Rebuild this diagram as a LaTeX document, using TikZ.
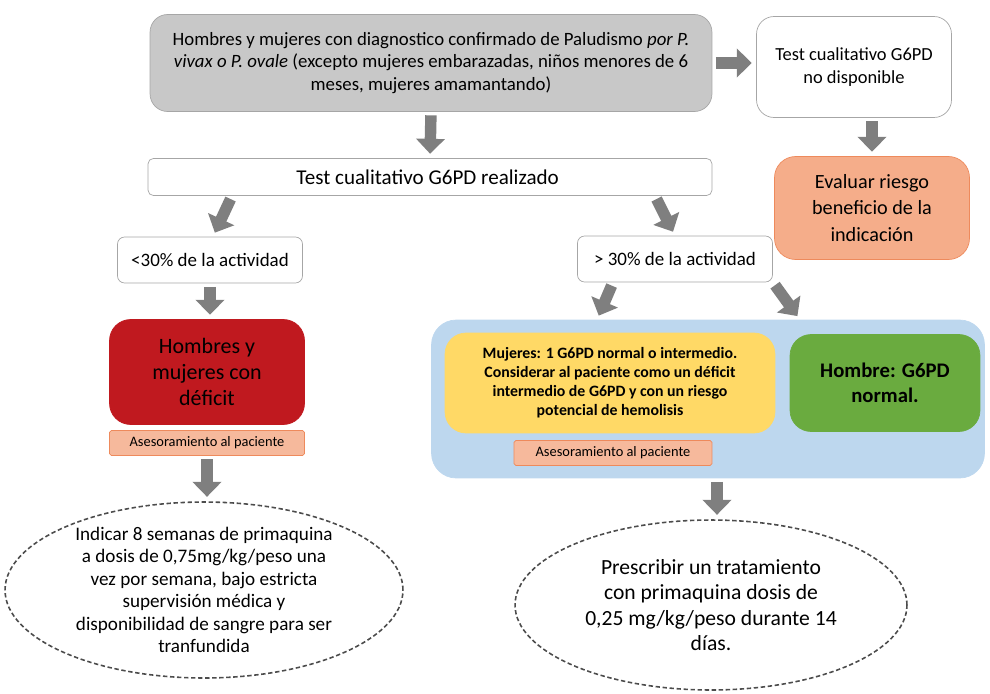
\documentclass[tikz,border=0pt]{standalone}
\usepackage{fontspec}
\setmainfont{Carlito}
\usepackage{tikz}
\usetikzlibrary{shapes,arrows.meta,positioning}

\definecolor{topgray}{HTML}{C8C8C8}
\definecolor{arrowgray}{HTML}{7F7F7F}
\definecolor{framegray}{HTML}{A6A6A6}
\definecolor{salmon}{HTML}{F5AD8A}
\definecolor{salmondark}{HTML}{EE8A5C}
\definecolor{deficitred}{HTML}{C0191F}
\definecolor{paleblue}{HTML}{BDD7EE}
\definecolor{paleyellow}{HTML}{FFD966}
\definecolor{normalgreen}{HTML}{6AAB3F}

\tikzset{
  every node/.style={
    align=center,
    inner sep=2pt
  },
  greybox/.style={
    shape=rectangle,
    rounded corners=10pt,
    draw=framegray,
    fill=topgray,
    font=\fontsize{10.7}{12.9}\selectfont
  },
  whitebox/.style={
    shape=rectangle,
    rounded corners=10pt,
    draw=framegray,
    fill=white,
    font=\fontsize{10.5}{13}\selectfont
  },
  riskbox/.style={
    shape=rectangle,
    rounded corners=12pt,
    draw=salmondark,
    fill=salmon,
    minimum width=3.9cm,
    minimum height=2.06cm,
    font=\fontsize{11.5}{15}\selectfont
  },
  testbox/.style={
    shape=rectangle,
    rounded corners=3pt,
    draw=framegray,
    fill=white,
    font=\fontsize{12}{14}\selectfont
  },
  levelbox/.style={
    shape=rectangle,
    rounded corners=4pt,
    draw=framegray,
    fill=white,
    minimum height=0.92cm,
    font=\fontsize{10.8}{12}\selectfont
  },
  deficit/.style={
    shape=rectangle,
    rounded corners=12pt,
    draw=deficitred,
    fill=deficitred,
    minimum width=3.9cm,
    minimum height=2.1cm,
    font=\fontsize{12.5}{15}\selectfont
  },
  counsel/.style={
    shape=rectangle,
    rounded corners=1pt,
    draw=salmondark,
    fill=salmon!85,
    minimum height=0.5cm,
    font=\fontsize{8.2}{9}\selectfont
  },
  bluebox/.style={
    shape=rectangle,
    rounded corners=14pt,
    draw=paleblue,
    fill=paleblue,
    minimum width=11.06cm,
    minimum height=3.16cm
  },
  womenbox/.style={
    shape=rectangle,
    rounded corners=12pt,
    draw=paleyellow,
    fill=paleyellow,
    minimum width=6.6cm,
    minimum height=2cm,
    font=\fontsize{9}{10.8}\selectfont\bfseries
  },
  menbox/.style={
    shape=rectangle,
    rounded corners=12pt,
    draw=normalgreen,
    fill=normalgreen,
    minimum width=3.8cm,
    minimum height=1.94cm,
    font=\fontsize{11.8}{14}\selectfont\bfseries
  },
  dashell/.style={
    shape=ellipse,
    draw=gray!60!black,
    line width=0.9pt,
    dash pattern=on 2.5pt off 1.5pt
  },
  fatarrow/.style={
    draw=arrowgray,
    line width=6.5pt,
    -{Triangle[width=16pt,length=8.5pt]},
    shorten <=2pt,
    shorten >=2.5pt
  }
}

\begin{document}
\begin{tikzpicture}[x=0.02cm, y=-0.02cm]
  \useasboundingbox (0,0) rectangle (990,693);

  % top row
  \node [greybox, minimum width=11.24cm, minimum height=1.94cm] (patients) at (431,63) {
    Hombres y mujeres con diagnostico confirmado de Paludismo \textit{por P.}\\
    \textit{vivax o P. ovale} (excepto mujeres embarazadas, niños menores de 6\\
    meses, mujeres amamantando)
  };
  \node [whitebox, minimum width=3.9cm, minimum height=2.02cm] (notavail) at (854,67) {
    Test cualitativo G6PD\\no disponible
  };
  \node [riskbox] (evaluate) at (872,208) {Evaluar riesgo\\beneficio de la\\indicación};

  % test done
  \node [testbox, minimum width=11.28cm, minimum height=0.74cm] (testdone) at (430,177) {
    Test cualitativo G6PD realizado
  };
  \node [levelbox, minimum width=3.7cm] (low) at (210,260) {<30\% de la actividad};
  \node [levelbox, minimum width=3.9cm] (high) at (675,259) {> 30\% de la actividad};

  % left branch
  \node [deficit] (deficit) at (207,372) {Hombres y\\mujeres con\\déficit};
  \node [counsel, minimum width=3.9cm] (counselL) at (207,443) {Asesoramiento al paciente};
  \node [dashell, minimum width=7.96cm, minimum height=3.52cm] (doseL) at (204,590) {};
  \node [font=\fontsize{10.9}{12.8}\selectfont] (doseLtext) at (doseL) {
    Indicar 8 semanas de primaquina\\
    a dosis de 0,75mg/kg/peso una\\
    vez por semana, bajo estricta\\
    supervisión médica y\\
    disponibilidad de sangre para ser\\
    tranfundida
  };

  % right branch
  \node [bluebox] (normal) at (708,399) {};
  \node [womenbox] (women) at (610,383) {
    Mujeres: 1 G6PD normal o intermedio.\\
    Considerar al paciente como un déficit\\
    intermedio de G6PD y con un riesgo\\
    potencial de hemolisis
  };
  \node [menbox] (men) at (885,383) {Hombre: G6PD\\normal.};
  \node [counsel, minimum width=3.96cm] (counselR) at (613,453) {Asesoramiento al paciente};
  \node [dashell, minimum width=7.84cm, minimum height=3.4cm] (doseR) at (711,605) {};
  \node [font=\fontsize{12.3}{14.4}\selectfont] (doseRtext) at (doseR) {
    Prescribir un tratamiento\\
    con primaquina dosis de\\
    0,25 mg/kg/peso durante 14\\
    días.
  };

  % arrows
  \draw [fatarrow] (patients.east) -- (patients.east -| notavail.west);
  \draw [fatarrow] (patients.south) -- (testdone.north);
  \draw [fatarrow] (notavail.south -| evaluate.north) -- (evaluate.north);
  \draw [fatarrow] ([xshift=-3.96cm]testdone.south) -- ([xshift=0.06cm]low.north);
  \draw [fatarrow] ([xshift=4.5cm]testdone.south) -- (high.north);
  \draw [fatarrow] (low.south) -- (low.south |- deficit.north);
  \draw [fatarrow] ([xshift=-1.24cm]high.south) -- ([xshift=-2.22cm]normal.north);
  \draw [fatarrow] ([xshift=1.96cm]high.south) -- ([xshift=1.84cm]normal.north);
  \draw [fatarrow] (counselL.south) -- (counselL.south |- doseL.north);
  \draw [fatarrow] ([xshift=0.18cm]normal.south) -- ([xshift=0.18cm]normal.south |- doseR.north);
\end{tikzpicture}
\end{document}
